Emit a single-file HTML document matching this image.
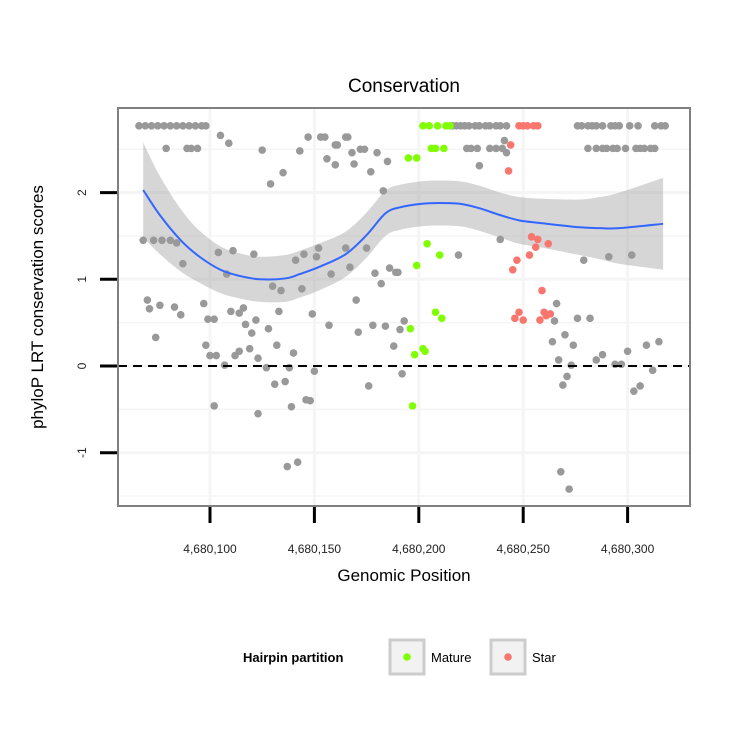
<!DOCTYPE html>
<html><head><meta charset="utf-8"><style>
body{margin:0;background:#fff;}
svg text{font-family:"Liberation Sans",sans-serif;}
</style></head><body>
<svg id="c" width="750" height="750" xmlns="http://www.w3.org/2000/svg"></svg>
<script>
const xTicks=[4680100,4680150,4680200,4680250,4680300];
const xTickLabels=["4,680,100","4,680,150","4,680,200","4,680,250","4,680,300"];
const yTicks=[-1,0,1,2];
const yTickLabels=["-1","0","1","2"];
const grayX=[66,69,72,75,78,81,84,87,90,93,96,98,79,89,91,94,105,109,125,143,147,153,155,160,161,165,166,156,160,168,169,172,174,180,185,177,183,129,135,
68,73,77,81,84,87,104,111,121,108,130,134,141,145,152,151,144,158,165,167,175,179,182,186,189,190,
70,71,76,83,86,74,97,99,102,110,114,116,117,120,122,128,133,132,140,149,157,170,171,178,184,188,191,193,98,100,103,112,114,119,123,107,127,138,150,131,136,146,148,102,123,139,176,192,137,142,
216,218,220,222,224,227,229,232,234,237,239,242,276,278,281,283,285,288,292,294,296,301,305,313,316,318,
223,225,228,234,237,240,281,285,288,290,293,295,299,304,306,308,311,313,
241,242,229,239,219,279,291,302,266,265,276,282,264,270,274,267,273,271,269,268,272,285,288,294,297,300,309,315,312,303,306];
const grayY=[2.77,2.77,2.77,2.77,2.77,2.77,2.77,2.77,2.77,2.77,2.77,2.77,2.51,2.51,2.51,2.51,2.66,2.57,2.49,2.48,2.64,2.64,2.64,2.55,2.55,2.64,2.64,2.39,2.32,2.46,2.33,2.50,2.50,2.46,2.36,2.24,2.02,2.10,2.23,
1.45,1.45,1.45,1.45,1.42,1.18,1.31,1.33,1.29,1.06,0.92,0.87,1.22,1.29,1.36,1.26,0.89,1.06,1.36,1.14,1.36,1.07,0.95,1.13,1.08,1.08,
0.76,0.66,0.70,0.68,0.59,0.33,0.72,0.54,0.54,0.63,0.61,0.67,0.48,0.38,0.53,0.43,0.63,0.24,0.15,0.60,0.47,0.76,0.39,0.47,0.46,0.23,0.42,0.52,0.24,0.12,0.12,0.12,0.17,0.20,0.09,0.01,-0.02,-0.02,-0.06,-0.21,-0.18,-0.39,-0.40,-0.46,-0.55,-0.47,-0.23,-0.09,-1.16,-1.11,
2.77,2.77,2.77,2.77,2.77,2.77,2.77,2.77,2.77,2.77,2.77,2.77,2.77,2.77,2.77,2.77,2.77,2.77,2.77,2.77,2.77,2.77,2.77,2.77,2.77,2.77,
2.51,2.51,2.51,2.51,2.51,2.51,2.51,2.51,2.51,2.51,2.51,2.51,2.51,2.51,2.51,2.51,2.51,2.51,
2.60,2.46,2.31,1.46,1.28,1.22,1.26,1.28,0.72,0.52,0.55,0.55,0.28,0.36,0.24,0.07,0.01,-0.12,-0.22,-1.22,-1.42,0.07,0.13,0.02,0.02,0.17,0.24,0.28,-0.05,-0.29,-0.23];
const matureX=[202,205,209,213,215,206,208,212,195,199,204,210,199,208,211,196,202,203,198,197];
const matureY=[2.77,2.77,2.77,2.77,2.77,2.51,2.51,2.51,2.40,2.40,1.41,1.28,1.16,0.62,0.55,0.43,0.20,0.17,0.13,-0.46];
const starX=[248,250,252,255,257,244,243,254,257,262,256,253,247,245,259,246,248,250,258,260,263,261];
const starY=[2.77,2.77,2.77,2.77,2.77,2.55,2.25,1.49,1.46,1.41,1.37,1.28,1.22,1.11,0.87,0.55,0.62,0.53,0.53,0.62,0.60,0.58];
const smoothX=[68,76,86,95,105,114,124,136,143,153,165,175,184,191,201,210,220,229,239,248,258,277,287,296,317];
const smoothY=[2.03,1.74,1.45,1.26,1.11,1.04,1.00,1.01,1.06,1.15,1.29,1.51,1.76,1.83,1.87,1.88,1.87,1.82,1.74,1.68,1.65,1.60,1.59,1.59,1.64];
const smoothSE=[0.55,0.45,0.36,0.30,0.27,0.26,0.26,0.27,0.27,0.27,0.26,0.26,0.26,0.26,0.26,0.26,0.26,0.26,0.26,0.27,0.28,0.32,0.36,0.41,0.53];

const NS="http://www.w3.org/2000/svg";
const svg=document.getElementById('c');
const L=118,R=690,T=108,B=506;
const x0=4680100;
function sx(v){return 210+(v-x0)*2.088;}
function sxo(o){return sx(4680000+o);}
function sy(v){return 366-v*86.7;}
function el(tag,attrs,parent){const e=document.createElementNS(NS,tag);for(const k in attrs)e.setAttribute(k,attrs[k]);(parent||svg).appendChild(e);return e;}
function curve(p){let d='M'+p[0][0]+','+p[0][1];for(let i=0;i<p.length-1;i++){const a=p[i-1]||p[i],b=p[i],c=p[i+1],e=p[i+2]||c;
d+=' C'+(b[0]+(c[0]-a[0])/6)+','+(b[1]+(c[1]-a[1])/6)+' '+(c[0]-(e[0]-b[0])/6)+','+(c[1]-(e[1]-b[1])/6)+' '+c[0]+','+c[1];}return d;}

const panel=el('rect',{x:L,y:T,width:R-L,height:B-T,fill:'#fff'});


const grid=el('g',{stroke:'#f5f5f5'});


xTicks.forEach(t=>{el('line',{x1:sx(t),x2:sx(t),y1:T,y2:B,'stroke-width':3},grid);});
yTicks.concat([-1.5,-0.5,0.5,1.5,2.5]).forEach(t=>{el('line',{x1:L,x2:R,y1:sy(t),y2:sy(t),'stroke-width':t%1===0?3:1.5},grid);});
const upP=smoothX.map((x,i)=>[sxo(x),sy(smoothY[i]+smoothSE[i])]);
const loP=smoothX.map((x,i)=>[sxo(x),sy(smoothY[i]-smoothSE[i])]).reverse();
const band=el('path',{d:curve(upP)+' L'+curve(loP).slice(1)+' Z',fill:'#999',opacity:0.4});


function pts(xs,ys,col,name){const g=el('g',{fill:col});
xs.forEach((x,i)=>{const c=el('circle',{cx:sxo(x),cy:sy(ys[i]),r:3.8},g);});}
pts(grayX,grayY,'#999999','other-points');
pts(matureX,matureY,'#7FFF00','mature-points');
pts(starX,starY,'#F8766D','star-points');
const line=el('path',{d:curve(smoothX.map((x,i)=>[sxo(x),sy(smoothY[i])])),fill:'none',stroke:'#3366FF','stroke-width':2});


const zl=el('line',{x1:L,x2:R,y1:sy(0),y2:sy(0),stroke:'#000','stroke-width':2,'stroke-dasharray':'9,6'});


const bd=el('rect',{x:L,y:T,width:R-L,height:B-T,fill:'none',stroke:'#7f7f7f','stroke-width':2});


xTicks.forEach((t,i)=>{el('line',{x1:sx(t),x2:sx(t),y1:B+1,y2:B+17,stroke:'#000','stroke-width':3});
const tx=el('text',{x:sx(t),y:553,'text-anchor':'middle','font-size':12,fill:'#222'});tx.textContent=xTickLabels[i];
});
yTicks.forEach((t,i)=>{el('line',{x1:100,x2:L-1,y1:sy(t),y2:sy(t),stroke:'#000','stroke-width':3});
const tx=el('text',{x:86,y:sy(t),'text-anchor':'middle','font-size':12,fill:'#222',transform:'rotate(-90 86 '+sy(t)+')'});tx.textContent=yTickLabels[i];
});
function txt(s,a,name){const t=el('text',a);t.textContent=s;return t;}
txt('Conservation',{x:404,y:92,'text-anchor':'middle','font-size':19},'chart-title');
txt('Genomic Position',{x:404,y:581,'text-anchor':'middle','font-size':17},'x-axis-title');
txt('phyloP LRT conservation scores',{x:43,y:307,'text-anchor':'middle','font-size':17,transform:'rotate(-90 43 307)'},'y-axis-title');
txt('Hairpin partition',{x:243,y:662,'font-size':13,'font-weight':'bold'},'legend-title');
const k1=el('rect',{x:390,y:640,width:34,height:34,fill:'#f2f2f2',stroke:'#ccc','stroke-width':3});
el('circle',{cx:407,cy:657,r:3.8,fill:'#7FFF00'});
txt('Mature',{x:431,y:662,'font-size':13},'legend-label-mature');
const k2=el('rect',{x:491,y:640,width:34,height:34,fill:'#f2f2f2',stroke:'#ccc','stroke-width':3});
el('circle',{cx:508,cy:657,r:3.8,fill:'#F8766D'});
txt('Star',{x:532,y:662,'font-size':13},'legend-label-star');
</script>
</body></html>
